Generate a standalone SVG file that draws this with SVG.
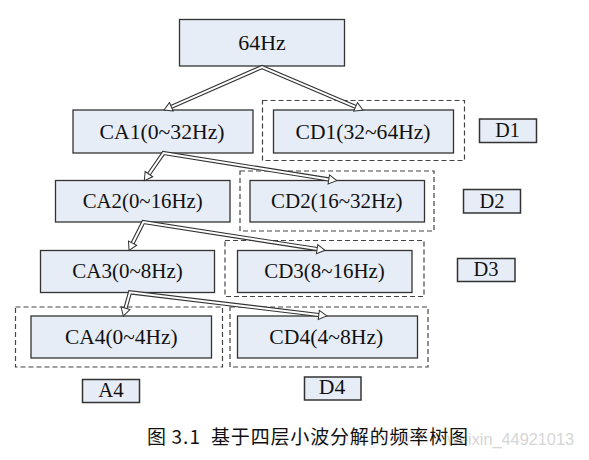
<svg xmlns="http://www.w3.org/2000/svg" width="589" height="460" viewBox="0 0 589 460">
<style>
  .box{fill:#e7edf7;stroke:#333;stroke-width:1.3}
  .tag{fill:#e7edf7;stroke:#333;stroke-width:1.5}
  .dash{fill:none;stroke:#444;stroke-width:1.2;stroke-dasharray:5 3}
  .lbl{font-family:"Liberation Serif","Times New Roman",serif;font-size:20px;fill:#111;text-anchor:middle}
  .outer{fill:none;stroke:#333;stroke-width:4.2;stroke-linejoin:miter}
  .inner{fill:none;stroke:#fff;stroke-width:2;stroke-linejoin:miter}
  .cap{font-family:"Noto Sans CJK SC","Noto Sans",sans-serif;font-size:19px;fill:#111}
  .wm{font-family:"Liberation Sans",Arial,sans-serif;font-size:16px}
</style>
<defs>
  <marker id="ah" markerUnits="userSpaceOnUse" markerWidth="12" markerHeight="12" refX="0" refY="0" viewBox="-1 -6 11 12" orient="auto-start-reverse">
    <path d="M0,-4.6 L8,0 L0,4.6 Z" fill="#fff" stroke="#333" stroke-width="1"/>
  </marker>
</defs>
<rect width="589" height="460" fill="#fff"/>

<g id="dashed-groups">
  <rect class="dash" x="262.5" y="100.5" width="202" height="60"/>
  <rect class="dash" x="240" y="171" width="194" height="60"/>
  <rect class="dash" x="225" y="240.5" width="199" height="56"/>
  <rect class="dash" x="15.5" y="307" width="207" height="60"/>
  <rect class="dash" x="230" y="307" width="198" height="60"/>
</g>

<g id="n64">
  <rect class="box" x="179.5" y="19.5" width="165" height="46.5"/>
  <text class="lbl" x="262" y="49.5" textLength="47.5" lengthAdjust="spacingAndGlyphs">64Hz</text>
</g>
<g id="ca1">
  <rect class="box" x="73" y="110" width="180" height="43"/>
  <text class="lbl" x="162" y="138.5" textLength="125" lengthAdjust="spacingAndGlyphs">CA1(0~32Hz)</text>
</g>
<g id="cd1">
  <rect class="box" x="273.5" y="110" width="180" height="43"/>
  <text class="lbl" x="363" y="138.5" textLength="135" lengthAdjust="spacingAndGlyphs">CD1(32~64Hz)</text>
</g>
<g id="d1">
  <rect class="tag" x="479.5" y="119" width="57" height="23.5"/>
  <text class="lbl" x="507.5" y="137" textLength="24.5" lengthAdjust="spacingAndGlyphs">D1</text>
</g>
<g id="ca2">
  <rect class="box" x="55.5" y="180.5" width="174.5" height="41.5"/>
  <text class="lbl" x="142.7" y="208.3" textLength="120" lengthAdjust="spacingAndGlyphs">CA2(0~16Hz)</text>
</g>
<g id="cd2">
  <rect class="box" x="250" y="180.5" width="174.5" height="41.5"/>
  <text class="lbl" x="336.8" y="208.3" textLength="131.5" lengthAdjust="spacingAndGlyphs">CD2(16~32Hz)</text>
</g>
<g id="d2">
  <rect class="tag" x="463.5" y="189.5" width="57" height="23.5"/>
  <text class="lbl" x="492" y="207.5" textLength="25" lengthAdjust="spacingAndGlyphs">D2</text>
</g>
<g id="ca3">
  <rect class="box" x="40.5" y="250.5" width="174" height="42"/>
  <text class="lbl" x="127.5" y="278.4" textLength="110.5" lengthAdjust="spacingAndGlyphs">CA3(0~8Hz)</text>
</g>
<g id="cd3">
  <rect class="box" x="237.5" y="250.5" width="174.5" height="42"/>
  <text class="lbl" x="324.5" y="278.4" textLength="120.5" lengthAdjust="spacingAndGlyphs">CD3(8~16Hz)</text>
</g>
<g id="d3">
  <rect class="tag" x="457.5" y="258.5" width="57.5" height="23"/>
  <text class="lbl" x="486" y="276" textLength="25" lengthAdjust="spacingAndGlyphs">D3</text>
</g>
<g id="ca4">
  <rect class="box" x="31" y="316" width="180.5" height="42"/>
  <text class="lbl" x="121.3" y="344" textLength="112.5" lengthAdjust="spacingAndGlyphs">CA4(0~4Hz)</text>
</g>
<g id="cd4">
  <rect class="box" x="237.5" y="316" width="180" height="42"/>
  <text class="lbl" x="326.3" y="344" textLength="114" lengthAdjust="spacingAndGlyphs">CD4(4~8Hz)</text>
</g>
<g id="a4">
  <rect class="tag" x="82.5" y="379.5" width="57" height="23"/>
  <text class="lbl" x="111" y="396.7" textLength="25.5" lengthAdjust="spacingAndGlyphs">A4</text>
</g>
<g id="d4">
  <rect class="tag" x="304.5" y="377" width="56.5" height="23"/>
  <text class="lbl" x="332" y="394.2" textLength="26.5" lengthAdjust="spacingAndGlyphs">D4</text>
</g>

<g id="connectors">
  <path class="outer" d="M171.3,106.8 L262,67 L355.6,106.9"/>
  <path class="inner" d="M171.3,106.8 L262,67 L355.6,106.9" marker-start="url(#ah)" marker-end="url(#ah)"/>
  <path class="outer" d="M148.9,174.1 L163.5,153 L328.8,179.4"/>
  <path class="inner" d="M148.9,174.1 L163.5,153 L328.8,179.4" marker-start="url(#ah)" marker-end="url(#ah)"/>
  <path class="outer" d="M132.6,243.2 L143.3,222 L317.1,249.1"/>
  <path class="inner" d="M132.6,243.2 L143.3,222 L317.1,249.1" marker-start="url(#ah)" marker-end="url(#ah)"/>
  <path class="outer" d="M125.5,308.3 L130,292.3 L318.8,315"/>
  <path class="inner" d="M125.5,308.3 L130,292.3 L318.8,315" marker-start="url(#ah)" marker-end="url(#ah)"/>
</g>

<g id="watermark">
  <text class="wm" x="297" y="445" textLength="277" lengthAdjust="spacingAndGlyphs"><tspan fill="#f0f0f0">https://blog.csdn.net/</tspan><tspan fill="#d6d6d6">weixin_44921013</tspan></text>
</g>

<g id="caption">
  <text class="cap" y="444"><tspan x="147">图</tspan><tspan x="171.5" textLength="28.5" lengthAdjust="spacing">3.1</tspan><tspan x="211" textLength="257" lengthAdjust="spacing">基于四层小波分解的频率树图</tspan></text>
</g>
</svg>
